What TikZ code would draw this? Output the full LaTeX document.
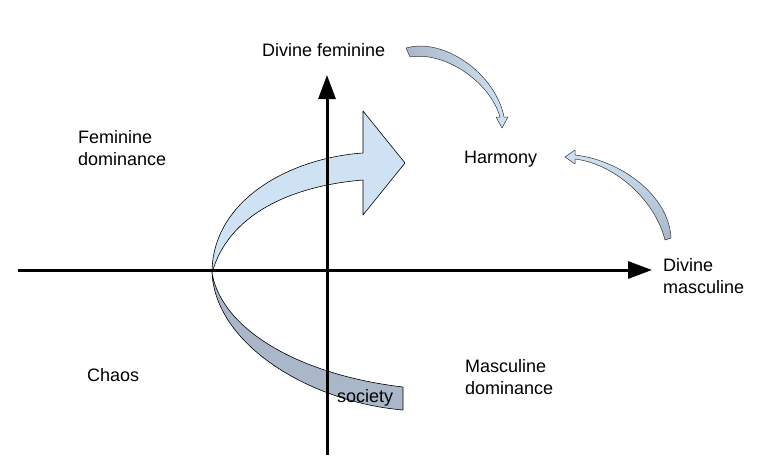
\documentclass[tikz,border=0pt]{standalone}
\usepackage{fontspec}
\setmainfont{Liberation Sans}
\usetikzlibrary{arrows.meta}

\definecolor{bandblue}{HTML}{CFE2F3}
\definecolor{bandgrey}{HTML}{A9B7C9}

\begin{document}
\begin{tikzpicture}[x=1pt, y=-1pt]
    \tikzset{
      label/.style={anchor=base west, inner sep=0pt, align=left, font=\fontsize{18}{22}\selectfont},
      axis/.style={line width=3pt, -{Triangle[length=24pt, width=17pt]}},
      ribbon/.style={draw=black, line width=0.6pt, line join=round},
      twist/.style={draw=black!80, line width=0.5pt, line join=round}
    }
    \useasboundingbox (0,0) rectangle (761,474);

    % society ribbon, lower half first
    \draw[ribbon, fill=bandgrey] (212,273) .. controls (222,330) and (300,375) .. (403,387)
      -- (403,410) .. controls (310,402) and (216,345) .. (212,273) -- cycle;
    \draw[ribbon, fill=bandblue] (212,273) .. controls (212,200) and (290,158) .. (363,153)
      -- (363,111) -- (405,163) -- (363,215) -- (363,180)
      .. controls (290,186) and (228,215) .. (212,273) -- cycle;

    % axes
    \coordinate (xl) at (18,270);
    \coordinate (xr) at (652,270);
    \coordinate (yb) at (327,455);
    \coordinate (yt) at (327,75);
    \draw[axis] (xl) -- (xr);
    \draw[axis] (yb) -- (yt);

    % small arrows into harmony
    \draw[twist, left color=bandgrey, right color=bandblue]
      (406,48) .. controls (445,37) and (496,75) .. (504,117)
      -- (508,117) -- (502,128) -- (496,117) -- (500,117)
      .. controls (490,82) and (445,51) .. (410,57) -- cycle;
    \draw[twist, bottom color=bandgrey, top color=bandblue]
      (671,238) .. controls (669,195) and (620,160) .. (575,155)
      -- (575,150) -- (565,157) -- (575,164) -- (575,159)
      .. controls (615,164) and (655,200) .. (665,240) -- cycle;

    \draw (262,56) node (divfem) [label] {Divine feminine};
    \draw (78,165) node (femdom) [label] {Feminine\\dominance};
    \draw (464,163) node (harmony) [label] {Harmony};
    \draw (663,293) node (divmasc) [label] {Divine\\masculine};
    \draw (87,381) node (chaos) [label] {Chaos};
    \draw (465,394) node (mascdom) [label] {Masculine\\dominance};
    \draw (337,402) node (society) [label] {society};
\end{tikzpicture}
\end{document}
